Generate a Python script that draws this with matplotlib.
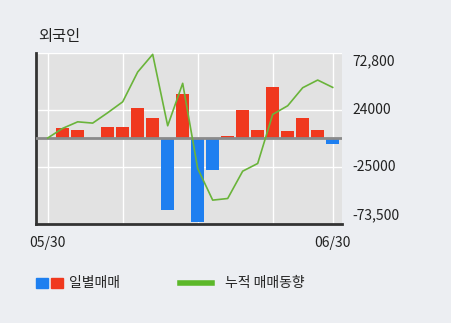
import matplotlib
matplotlib.use("Agg")
import matplotlib.pyplot as plt
import numpy as np

plt.rcParams['font.family'] = ['Noto Sans CJK KR', 'DejaVu Sans']

# daily net trades (bars) and cumulative trend (line), 05/30 .. 06/30
daily = [0, 8500, 6500, 0, 9600, 9600, 25700, 17100, -61800, 37800,
         -72100, -27400, 1600, 24000, 6800, 44000, 5900, 17400, 6800, -5000]
cumul = [0, 8300, 13900, 12800, 21700, 31100, 56700, 71900, 10500, 47000,
         -26200, -53400, -52000, -28500, -21900, 20300, 27700, 43200, 49800, 43500]
xlabels = ["05/30", "06/30"]
yticks = [72800, 24000, -25000, -73500]
ylabels = ["72,800", "24000", "-25000", "-73,500"]

red = "#f0381e"
blue = "#1e7ff0"
green = "#6ab43a"

fig = plt.figure(figsize=(4.51, 3.23), dpi=100, facecolor="#eceef2")
ax = fig.add_axes([0.0798, 0.308, 0.6785, 0.527])
ax.set_facecolor("#e2e2e2")

x = np.arange(len(daily))
colors = [red if v >= 0 else blue for v in daily]
ax.bar(x, daily, width=0.85, color=colors, zorder=3)
ax.axhline(0, color="#8a8a8a", lw=2, zorder=4)
ax.plot(x, cumul, color=green, lw=1.2, zorder=5)

ax.set_xlim(-0.78, 19.62)
ax.set_ylim(-73500, 72800)

# grid
for gx in [0, 5, 10, 15, 19]:
    ax.axvline(gx, color="white", lw=1, zorder=1)
for gy in [72800, 24000, -25000]:
    ax.axhline(gy, color="white", lw=1, zorder=1)

for s in ["top", "right"]:
    ax.spines[s].set_visible(False)
for s in ["left", "bottom"]:
    ax.spines[s].set_color("#333333")
    ax.spines[s].set_linewidth(2)

ax.set_xticks([0, 19])
ax.set_xticklabels(xlabels, fontsize=10, color="#222222")
ax.tick_params(axis="x", length=0, pad=9)
ax.set_yticks([])
ax.set_yticklabels([])

# right-side y labels
for v, lab in zip(yticks, ylabels):
    yy = v
    if v == 72800:
        yy = 66000
    elif v == -73500:
        yy = -66500
    ax.text(1.033, yy, lab, transform=ax.get_yaxis_transform(), fontsize=10,
            color="#222222", va="center", ha="left")

fig.text(38 / 451, 1 - 37 / 323, "외국인", fontsize=11, color="#222222",
         va="center", ha="left")

# legend
fig.patches.append(plt.Rectangle((36 / 451, 1 - 288 / 323), 11.5 / 451, 10 / 323,
                                 transform=fig.transFigure, color=blue))
fig.patches.append(plt.Rectangle((51 / 451, 1 - 288 / 323), 11.5 / 451, 10 / 323,
                                 transform=fig.transFigure, color=red))
fig.text(69 / 451, 1 - 283 / 323, "일별매매", fontsize=10, color="#222222",
         va="center", ha="left")
fig.lines.append(plt.Line2D([180 / 451, 212 / 451], [1 - 283 / 323, 1 - 283 / 323],
                            transform=fig.transFigure, color="#5cb82a", lw=4))
fig.text(225 / 451, 1 - 283 / 323, "누적 매매동향", fontsize=10, color="#222222",
         va="center", ha="left")

fig.savefig("out.png", dpi=100, facecolor=fig.get_facecolor())
